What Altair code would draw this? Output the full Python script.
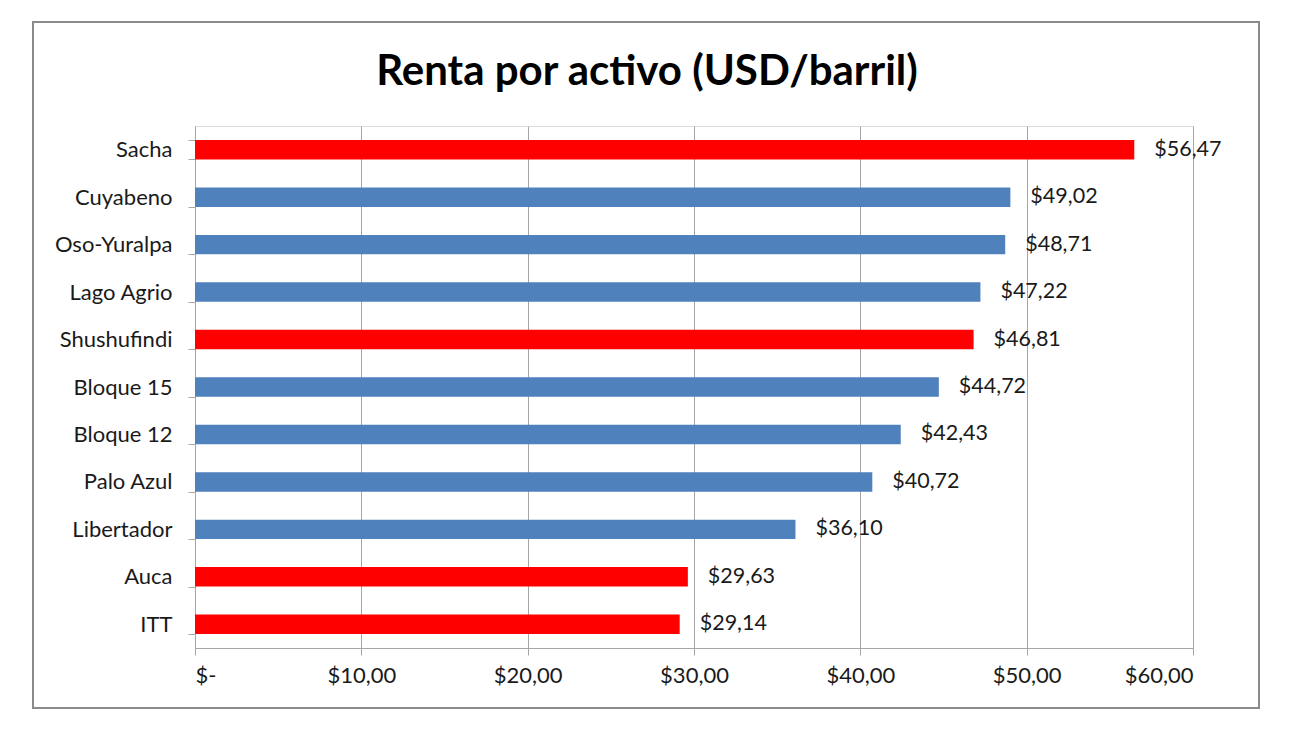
import altair as alt
import pandas as pd

categories = ["Sacha", "Cuyabeno", "Oso-Yuralpa", "Lago Agrio", "Shushufindi",
              "Bloque 15", "Bloque 12", "Palo Azul", "Libertador", "Auca", "ITT"]
values = [56.47, 49.02, 48.71, 47.22, 46.81, 44.72, 42.43, 40.72, 36.10, 29.63, 29.14]
groups = ["rojo", "azul", "azul", "azul", "rojo", "azul", "azul", "azul", "azul", "rojo", "rojo"]
title_text = "Renta por activo (USD/barril)"

df = pd.DataFrame({
    "activo": categories,
    "renta": values,
    "grupo": groups,
    "etiqueta": ["$" + f"{v:.2f}".replace(".", ",") for v in values],
})

FONT = "Lato"
TXT = "#1a1a1a"
GRID = "#a6a6a6"

y_enc = alt.Y("activo:N", sort=categories, title=None,
              scale=alt.Scale(paddingInner=0.59, paddingOuter=0.295),
              axis=alt.Axis(tickBand="extent", ticks=True, tickSize=7, tickColor=GRID,
                            domainColor=GRID, grid=False, labelPadding=16,
                            labelFontSize=22, labelFont=FONT, labelColor=TXT))
x_enc = alt.X("renta:Q", title=None,
              scale=alt.Scale(domain=[0, 60], nice=False),
              axis=alt.Axis(values=[0, 10, 20, 30, 40, 50, 60], tickSize=7,
                            tickColor=GRID, domainColor=GRID, gridColor=GRID,
                            labelPadding=10, labelFontSize=22, labelFont=FONT,
                            labelColor=TXT,
                            labelExpr="datum.value == 0 ? '$-' : '$' + replace(format(datum.value, '.2f'), '.', ',')"))

bars = alt.Chart(df).mark_bar().encode(
    y=y_enc, x=x_enc,
    color=alt.Color("grupo:N", scale=alt.Scale(domain=["rojo", "azul"], range=["#ff0000", "#4f81bd"]), legend=None),
)

labels = alt.Chart(df).mark_text(align="left", baseline="middle", dx=20,
                                 fontSize=21.5, font=FONT, color=TXT).encode(
    y=alt.Y("activo:N", sort=categories), x="renta:Q", text="etiqueta:N")

single = pd.DataFrame({"t": [title_text]})

frame = alt.Chart(single).mark_rect(
    fill=None, stroke="#8a8a8a", strokeWidth=2).encode(
    x=alt.value(-162), x2=alt.value(1064), y=alt.value(-104), y2=alt.value(582))

title = alt.Chart(single).mark_text(
    fontSize=42, font=FONT, fontWeight="bold", color="#000000",
    align="center", baseline="middle").encode(
    x=alt.value(452), y=alt.value(-54), text="t:N")

chart = alt.layer(frame, bars, labels, title).properties(
    width=998, height=522,
    autosize=alt.AutoSizeParams(type="none"),
    padding={"left": 187, "top": 118, "right": 90, "bottom": 80},
).configure_view(stroke="transparent", strokeWidth=0).configure(background="white")

chart.save("out.html", embed_options={"renderer": "svg", "actions": False})
